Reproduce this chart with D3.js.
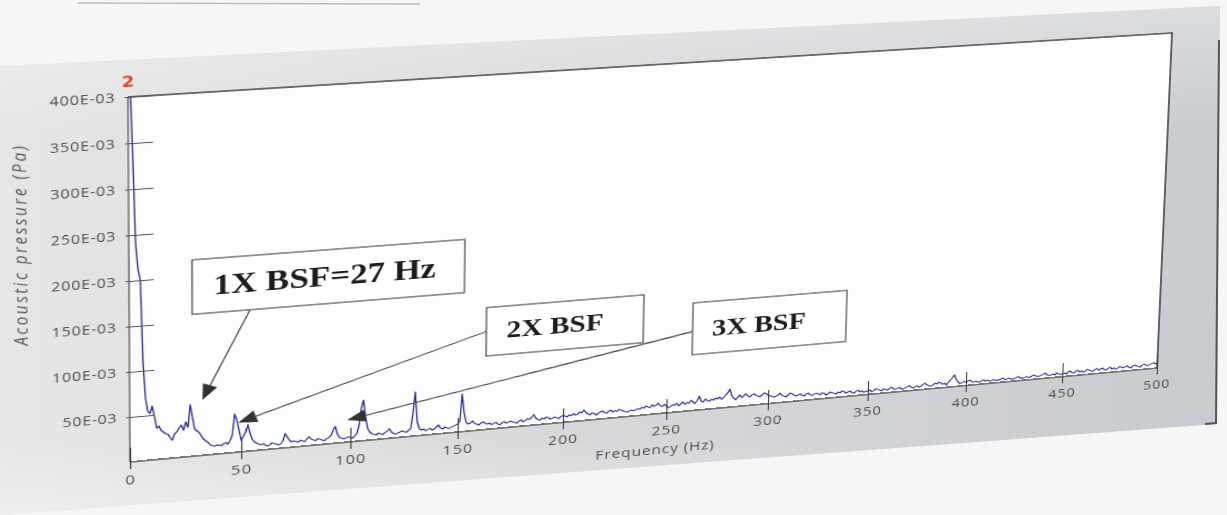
<!DOCTYPE html>
<html>
<head>
<meta charset="utf-8">
<script src="https://cdn.jsdelivr.net/npm/d3@7"></script>
<style>
  html, body { margin: 0; padding: 0; background: #f5f5f5; overflow: hidden; }
  #bg { position: absolute; left: 0; top: 0; }
  #sheet { position: absolute; left: 0; top: 0; transform-origin: 0 0; }
</style>
</head>
<body>
<svg id="bg" width="1227" height="515"></svg>
<div id="sheet"></div>
<script>
// Sound pressure spectrum, 1 Hz bins from 0 to 500 Hz, values in E-03 Pa
const freqStep = 1;
const pressure = [
  420,410,330,240,212,200,110,70,55,52,60,48,35,37,32,30,28,27,23,20,27,29,33,36,30,
  39,33,58,44,30,28,26,22,18,16,14,11,10,9,10,10,9,11,12,10,14,20,43,36,25,
  13,17,22,30,20,13,10,8,7,6,7,5,4,5,7,6,5,4,5,8,16,12,8,6,7,
  6,5,7,6,5,8,10,7,6,5,7,6,5,4,6,7,9,15,19,10,6,5,4,5,6,
  5,4,6,9,18,37,46,26,13,9,7,6,5,7,6,5,7,8,11,7,5,4,5,6,7,
  6,5,7,9,26,50,16,8,6,7,5,6,7,5,6,8,10,6,5,7,6,5,6,7,8,
  9,12,43,21,10,8,9,11,8,7,6,8,9,7,6,7,5,6,7,5,4,6,7,5,6,
  7,6,5,4,6,7,5,6,8,7,9,12,8,6,5,7,6,8,7,5,6,7,6,5,7,
  8,7,6,8,7,9,7,8,10,9,12,9,7,6,8,7,5,7,8,9,7,6,8,9,7,
  8,7,9,8,7,6,5,6,7,6,7,8,7,9,8,10,9,8,11,9,10,12,9,8,10,
  8,6,7,9,8,10,7,9,11,8,10,9,12,10,8,11,16,10,9,12,10,9,11,10,12,
  11,13,10,12,15,17,21,13,10,8,11,13,10,12,14,11,10,12,13,11,10,9,11,13,12,
  10,9,8,7,8,9,11,8,7,6,8,10,9,7,6,7,8,6,5,7,8,6,5,6,7,
  6,5,7,6,4,5,7,6,5,4,6,5,7,6,4,5,6,4,3,5,6,4,5,3,4,
  4,5,3,4,6,5,4,3,5,4,3,5,6,4,3,4,5,3,3,4,5,6,4,3,4,
  5,3,4,6,7,5,4,3,4,6,5,7,6,4,5,3,6,8,11,14,8,5,3,4,5,
  4,5,6,4,3,4,3,3,4,5,3,4,3,3,4,3,3,3,4,5,3,3,4,3,3,
  3,4,5,3,3,3,4,3,3,4,5,4,3,3,4,5,6,4,3,3,4,3,5,4,3,
  3,4,3,5,6,4,3,5,6,4,5,3,4,6,5,4,3,5,6,4,5,6,4,3,5,
  6,4,5,3,4,6,5,4,5,6,4,3,5,6,5,4,3,5,6,5,4,5,6,7,5,6
];

const xTicks = [0, 50, 100, 150, 200, 250, 300, 350, 400, 450, 500];
const yTicks = [50, 100, 150, 200, 250, 300, 350, 400];
const yTickLabels = ["50E-03", "100E-03", "150E-03", "200E-03", "250E-03", "300E-03", "350E-03", "400E-03"];
const xTitle = "Frequency (Hz)";
const yTitle = "Acoustic pressure (Pa)";

// Callout texts and their placement in data units (Hz, E-03 Pa)
const calloutLabels = ["1X BSF=27 Hz", "2X BSF", "3X BSF"];
const calloutLayout = [
  { box: [28, 152.5, 218, 158], from: [54, 158], tip: [32.5, 62], size: 32 },
  { box: [163, 238, 139, 84], from: [163, 112], tip: [48.6, 33], size: 28 },
  { box: [262, 338, 125, 65], from: [262, 92], tip: [98.5, 25], size: 28 }
];

// ---- flat chart geometry ----
const W = 1300, H = 600, PX = 150, PY = 110, PW = 1000, PH = 400;

const x = d3.scaleLinear().domain([0, 500]).range([PX, PX + PW]);
const y = d3.scaleLinear().domain([0, 400]).range([PY + PH, PY]);

const sheet = d3.select("#sheet").style("width", W + "px").style("height", H + "px");
const svg = sheet.append("svg").attr("width", W).attr("height", H);

svg.append("defs").append("clipPath").attr("id", "plotClip")
  .append("rect").attr("x", PX).attr("y", PY).attr("width", PW).attr("height", PH);

// plot background
svg.append("rect").attr("x", PX).attr("y", PY).attr("width", PW).attr("height", PH)
  .attr("fill", "#fdfdfd");

// spectrum trace
const series = pressure.map((v, i) => ({ f: i * freqStep, v }));
svg.append("path")
  .datum(series)
  .attr("clip-path", "url(#plotClip)")
  .attr("fill", "none")
  .attr("stroke", "#28289a")
  .attr("stroke-width", 1.25)
  .attr("stroke-linejoin", "round")
  .attr("d", d3.line().x(d => x(d.f)).y(d => y(d.v)));

// frame: top and right borders
svg.append("path")
  .attr("d", `M${PX},${PY}H${PX + PW}V${PY + PH}`)
  .attr("fill", "none").attr("stroke", "#3c3c3c").attr("stroke-width", 1.6);

// axes
const fontFamily = "'Open Sans', 'Noto Sans', sans-serif";

const yAxis = d3.axisLeft(y)
  .tickValues(yTicks)
  .tickFormat((d, i) => yTickLabels[i])
  .tickSizeInner(-22).tickSizeOuter(0).tickPadding(11);
const gy = svg.append("g").attr("transform", `translate(${PX},0)`).call(yAxis);
gy.select(".domain").attr("stroke", "#7a7a7a").attr("stroke-width", 1.6)
  .attr("d", `M0,${PY}V${PY + PH}`);
gy.selectAll(".tick line").attr("x1", -3).attr("stroke", "#555").attr("stroke-width", 1.1);
gy.selectAll(".tick text")
  .attr("font-family", fontFamily).attr("font-size", 14).attr("letter-spacing", 0.7)
  .attr("fill", "#4e4e4e");

const xAxis = d3.axisBottom(x)
  .tickValues(xTicks)
  .tickFormat(d3.format("d"))
  .tickSizeInner(-16).tickSizeOuter(0).tickPadding(14);
const gx = svg.append("g").attr("transform", `translate(0,${PY + PH})`).call(xAxis);
gx.select(".domain").attr("stroke", "#505050").attr("stroke-width", 1.6)
  .attr("d", `M${PX},0H${PX + PW}`);
gx.selectAll(".tick line").attr("y1", 8).attr("stroke", "#3a3a3a").attr("stroke-width", 1.1);
gx.selectAll(".tick text")
  .attr("font-family", fontFamily).attr("font-size", 15).attr("letter-spacing", 1.1)
  .attr("fill", "#4e4e4e");

// axis titles
svg.append("text")
  .attr("x", x(245)).attr("y", PY + PH + 47)
  .attr("text-anchor", "middle")
  .attr("font-family", fontFamily).attr("font-size", 15).attr("letter-spacing", 0.9)
  .attr("fill", "#4e4e4e")
  .text(xTitle);

svg.append("text")
  .attr("transform", `translate(${PX - 89},${PY + PH * 0.38}) rotate(-90)`)
  .attr("text-anchor", "middle")
  .attr("font-family", fontFamily).attr("font-size", 17).attr("letter-spacing", 2.5)
  .attr("font-style", "italic")
  .attr("fill", "#5a5a5a")
  .text(yTitle);

// overflow marker at the top of the pressure axis
svg.append("text")
  .attr("x", PX).attr("y", PY - 11)
  .attr("text-anchor", "middle")
  .attr("font-family", "'DejaVu Sans', sans-serif").attr("font-weight", "bold")
  .attr("font-size", 16).attr("fill", "#e8452c")
  .text("2");

// callouts
const callouts = svg.append("g");
calloutLayout.forEach((c, i) => {
  const [f0, f1, v0, v1] = c.box;
  const bx = x(f0), by = y(v0), bw = x(f1) - x(f0), bh = y(v1) - y(v0);
  const sx = x(c.from[0]), sy = y(c.from[1]);
  const tx = x(c.tip[0]), ty = y(c.tip[1]);
  const dx = sx - tx, dy = sy - ty, len = Math.hypot(dx, dy);
  const ux = dx / len, uy = dy / len;
  const headLen = 17, headHalf = 7;
  const baseX = tx + ux * headLen, baseY = ty + uy * headLen;

  callouts.append("line")
    .attr("x1", sx).attr("y1", sy).attr("x2", baseX).attr("y2", baseY)
    .attr("stroke", "#4a4a4a").attr("stroke-width", 1.3);
  callouts.append("path")
    .attr("d", `M${tx},${ty}L${baseX - uy * headHalf},${baseY + ux * headHalf}L${baseX + uy * headHalf},${baseY - ux * headHalf}Z`)
    .attr("fill", "#333");

  callouts.append("rect")
    .attr("x", bx).attr("y", by).attr("width", bw).attr("height", bh)
    .attr("fill", "#ffffff").attr("stroke", "#4a4a4a").attr("stroke-width", 1.2);
  callouts.append("text")
    .attr("x", bx + 19).attr("y", by + bh * 0.66)
    .attr("font-family", "'Liberation Serif', 'Times New Roman', serif")
    .attr("font-weight", "bold").attr("font-size", c.size)
    .attr("fill", "#1c1c1c")
    .text(calloutLabels[i]);
});

// ---- perspective of the printed page ----
function homography(src, dst) {
  const A = [], B = [];
  for (let i = 0; i < 4; i++) {
    const [sx, sy] = src[i], [dx, dy] = dst[i];
    A.push([sx, sy, 1, 0, 0, 0, -sx * dx, -sy * dx]); B.push(dx);
    A.push([0, 0, 0, sx, sy, 1, -sx * dy, -sy * dy]); B.push(dy);
  }
  const n = 8;
  for (let c = 0; c < n; c++) {
    let p = c;
    for (let r = c + 1; r < n; r++) if (Math.abs(A[r][c]) > Math.abs(A[p][c])) p = r;
    [A[c], A[p]] = [A[p], A[c]]; [B[c], B[p]] = [B[p], B[c]];
    for (let r = 0; r < n; r++) {
      if (r === c) continue;
      const k = A[r][c] / A[c][c];
      for (let j = c; j < n; j++) A[r][j] -= k * A[c][j];
      B[r] -= k * B[c];
    }
  }
  return B.map((b, i) => b / A[i][i]);
}
const plotCorners = [[PX, PY], [PX + PW, PY], [PX + PW, PY + PH], [PX, PY + PH]];
const pageCorners = [[128, 97], [1172, 33], [1157, 368], [130, 462]];
const [a, b, c, d, e, f, g, h] = homography(plotCorners, pageCorners);
sheet.style("transform", `matrix3d(${a},${d},0,${g},${b},${e},0,${h},0,0,1,0,${c},${f},0,1)`);

// ---- panel behind the chart ----
const bg = d3.select("#bg");
const bgDefs = bg.append("defs");
const grad = bgDefs.append("linearGradient").attr("id", "panelGrad")
  .attr("x1", "0").attr("y1", "0").attr("x2", "1").attr("y2", "0");
grad.append("stop").attr("offset", "0").attr("stop-color", "#e6e6e6");
grad.append("stop").attr("offset", "0.45").attr("stop-color", "#d8d9db");
grad.append("stop").attr("offset", "1").attr("stop-color", "#c8cbcf");
const fade = bgDefs.append("linearGradient").attr("id", "panelFade")
  .attr("x1", "0").attr("y1", "0").attr("x2", "0").attr("y2", "1");
fade.append("stop").attr("offset", "0").attr("stop-color", "#ffffff").attr("stop-opacity", 0.35);
fade.append("stop").attr("offset", "0.25").attr("stop-color", "#ffffff").attr("stop-opacity", 0);
fade.append("stop").attr("offset", "0.85").attr("stop-color", "#ffffff").attr("stop-opacity", 0);
fade.append("stop").attr("offset", "1").attr("stop-color", "#ffffff").attr("stop-opacity", 0.35);

const panel = "0,66 1220,6 1217,424 0,515";
bg.append("rect").attr("width", 1227).attr("height", 515).attr("fill", "#f6f6f6");
bg.append("polygon").attr("points", panel).attr("fill", "url(#panelGrad)");
bg.append("polygon").attr("points", panel).attr("fill", "url(#panelFade)");
bg.append("path").attr("d", "M1219,40L1216,423L1205,424")
  .attr("fill", "none").attr("stroke", "#555").attr("stroke-width", 2);
bg.append("line").attr("x1", 78).attr("y1", 3).attr("x2", 420).attr("y2", 4)
  .attr("stroke", "#bdbdbd").attr("stroke-width", 1.5);
</script>
</body>
</html>
